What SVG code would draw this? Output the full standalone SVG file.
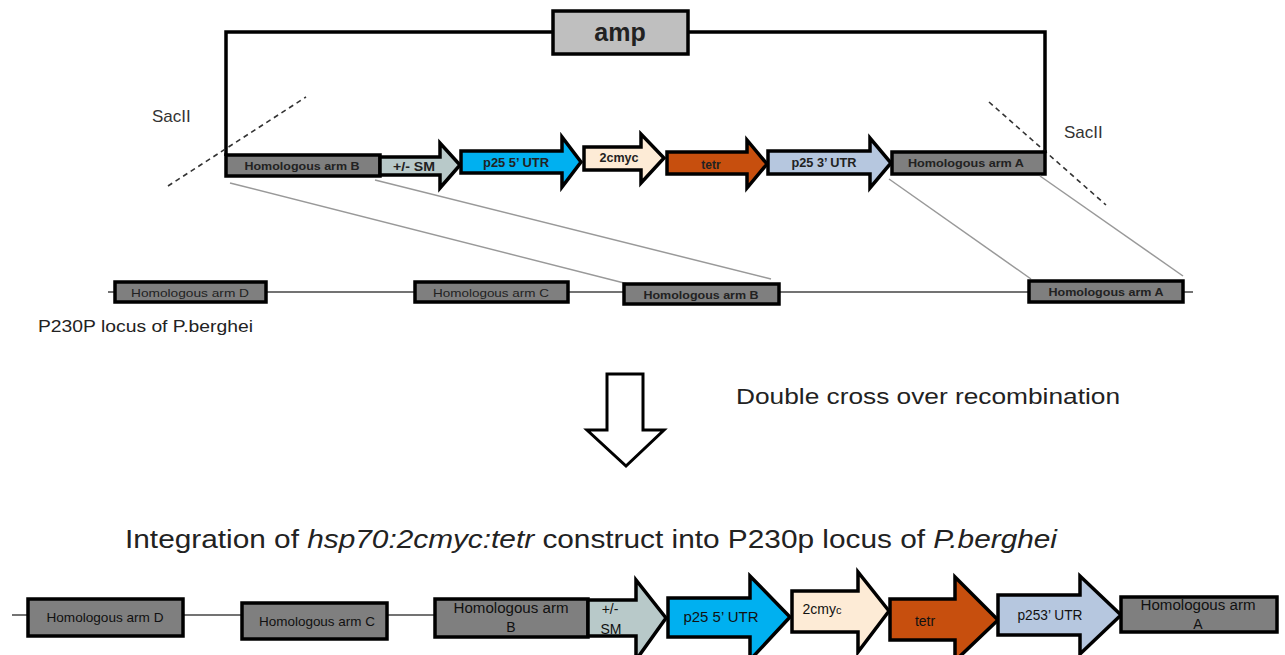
<svg xmlns="http://www.w3.org/2000/svg" width="1285" height="655" viewBox="0 0 1285 655">
  <style>
    .blk { fill: none; stroke: #000; stroke-width: 3.5; }
    .seg { stroke: #000; stroke-width: 3.5; stroke-linejoin: miter; }
    .arm { fill: #7f7f7f; }
    .sm { fill: #b8c9c9; }
    .utr5 { fill: #00b0f0; }
    .myc { fill: #fdebd6; }
    .tet { fill: #c74f0e; }
    .utr3 { fill: #b6c7df; }
    .link { stroke: #999; stroke-width: 1.5; fill: none; }
    .cut { stroke: #333; stroke-width: 1.6; stroke-dasharray: 5 4; fill: none; }
    .chrom { stroke: #444; stroke-width: 1.5; fill: none; }
    text { font-family: "Liberation Sans", Arial, sans-serif; fill: #222; }
    .lb { font-size: 11px; font-weight: bold; text-anchor: middle; }
    .lb12 { font-size: 12px; }
    .lb13 { font-size: 13px; }
    .ll { font-size: 11.5px; text-anchor: middle; }
    .llb { font-weight: bold; }
    .bl { font-size: 14px; text-anchor: middle; fill: #111; }
    .bls { font-size: 13px; }
    .site { font-size: 17px; fill: #333; }
  </style>

  <!-- plasmid backbone with amp cassette -->
  <g id="backbone">
    <polyline class="blk" points="553,32 226,32 226,156"/>
    <polyline class="blk" points="688,32 1045,32 1045,153"/>
  </g>
  <g id="amp">
    <rect x="553" y="11" width="135" height="43" fill="#bfbfbf" stroke="#000" stroke-width="3.5"/>
    <text x="620" y="41" font-size="25" font-weight="bold" text-anchor="middle">amp</text>
  </g>

  <!-- SacII cut sites -->
  <g id="sacII-left">
    <line class="cut" x1="168" y1="186" x2="306" y2="97"/>
    <text class="site" x="152" y="122">SacII</text>
  </g>
  <g id="sacII-right">
    <line class="cut" x1="989" y1="102" x2="1106" y2="205"/>
    <text class="site" x="1064" y="138">SacII</text>
  </g>

  <!-- targeting construct -->
  <g id="construct-armB">
    <rect class="seg arm" x="226" y="155" width="154" height="21"/>
    <text class="lb" x="302" y="169.5" textLength="115" lengthAdjust="spacingAndGlyphs">Homologous arm B</text>
  </g>
  <g id="construct-sm">
    <polygon class="seg sm" points="380,157 440,157 440,143 460,165 440,188 440,175 380,175"/>
    <text class="lb lb12" x="414" y="170.5" textLength="42" lengthAdjust="spacingAndGlyphs">+/- SM</text>
  </g>
  <g id="construct-p25-5utr">
    <polygon class="seg utr5" points="461,151 562,151 562,137 581,162 562,187 562,173 461,173"/>
    <text class="lb lb12" x="516" y="166.5" textLength="66" lengthAdjust="spacingAndGlyphs">p25 5’ UTR</text>
  </g>
  <g id="construct-2cmyc">
    <polygon class="seg myc" points="584,147 641,147 641,134 664,158 641,183 641,170 584,170"/>
    <text class="lb lb12" x="619" y="162" textLength="39" lengthAdjust="spacingAndGlyphs">2cmyc</text>
  </g>
  <g id="construct-tetr">
    <polygon class="seg tet" points="667,152 747,152 747,140 767,164 747,188 747,174 667,174"/>
    <text class="lb lb12" x="711" y="168.5">tetr</text>
  </g>
  <g id="construct-p25-3utr">
    <polygon class="seg utr3" points="768,151 870,151 870,138 891,163 870,188 870,174 768,174"/>
    <text class="lb lb12" x="824" y="166.5" textLength="65" lengthAdjust="spacingAndGlyphs">p25 3’ UTR</text>
  </g>
  <g id="construct-armA">
    <rect class="seg arm" x="892" y="152" width="153" height="22"/>
    <text class="lb" x="966" y="167" textLength="116" lengthAdjust="spacingAndGlyphs">Homologous arm A</text>
  </g>

  <!-- homology connectors -->
  <g id="connectors">
    <line class="link" x1="230" y1="183" x2="628" y2="284"/>
    <line class="link" x1="375" y1="180" x2="771" y2="279"/>
    <line class="link" x1="889" y1="179" x2="1031" y2="279"/>
    <line class="link" x1="1040" y1="176" x2="1183" y2="276"/>
  </g>

  <!-- wild-type P230p locus -->
  <g id="locus-line">
    <line class="chrom" x1="108" y1="292" x2="1193" y2="292"/>
  </g>
  <g id="locus-armD">
    <rect class="seg arm" x="115" y="282" width="151" height="20"/>
    <text class="ll" x="190" y="296.5" textLength="118" lengthAdjust="spacingAndGlyphs">Homologous arm D</text>
  </g>
  <g id="locus-armC">
    <rect class="seg arm" x="415" y="282" width="153" height="20"/>
    <text class="ll" x="491" y="296.5" textLength="116" lengthAdjust="spacingAndGlyphs">Homologous arm C</text>
  </g>
  <g id="locus-armB">
    <rect class="seg arm" x="624" y="284" width="155" height="20"/>
    <text class="ll llb" x="701" y="298.5" textLength="115" lengthAdjust="spacingAndGlyphs">Homologous arm B</text>
  </g>
  <g id="locus-armA">
    <rect class="seg arm" x="1029" y="281" width="154" height="21"/>
    <text class="ll llb" x="1106" y="296" textLength="115" lengthAdjust="spacingAndGlyphs">Homologous arm A</text>
  </g>
  <g id="locus-label">
    <text x="38" y="332" font-size="17" textLength="215" lengthAdjust="spacingAndGlyphs">P230P  locus of P.berghei</text>
  </g>

  <!-- recombination step -->
  <g id="down-arrow">
    <polygon points="607,374 643,374 643,430 664,430 626,466 587,430 607,430" fill="#fff" stroke="#000" stroke-width="3"/>
  </g>
  <g id="recombination-label">
    <text x="736" y="404" font-size="22" fill="#333" textLength="384" lengthAdjust="spacingAndGlyphs">Double cross over recombination</text>
  </g>
  <g id="result-title">
    <text x="125" y="548" font-size="26" fill="#000" textLength="932" lengthAdjust="spacingAndGlyphs">Integration of <tspan font-style="italic">hsp70:2cmyc:tetr</tspan>  construct into P230p locus of <tspan font-style="italic">P.berghei</tspan></text>
  </g>

  <!-- integrated locus -->
  <g id="result-line">
    <line class="chrom" x1="12" y1="615" x2="436" y2="615"/>
  </g>
  <g id="result-armD">
    <rect class="seg arm" x="28" y="599" width="155" height="37"/>
    <text class="bl bls" x="105" y="622" textLength="117" lengthAdjust="spacingAndGlyphs">Homologous arm D</text>
  </g>
  <g id="result-armC">
    <rect class="seg arm" x="242" y="603" width="145" height="36"/>
    <text class="bl bls" x="317" y="625.5" textLength="116" lengthAdjust="spacingAndGlyphs">Homologous arm C</text>
  </g>
  <g id="result-armB">
    <rect class="seg arm" x="435" y="599" width="153" height="38"/>
    <text class="bl" x="511" y="613" textLength="115" lengthAdjust="spacingAndGlyphs">Homologous arm</text>
    <text class="bl" x="511" y="632">B</text>
  </g>
  <g id="result-sm">
    <polygon class="seg sm" points="588,600 636,600 636,580 666,618 636,660 636,636 588,636"/>
    <text class="bl" x="610" y="614">+/-</text>
    <text class="bl" x="611" y="634">SM</text>
  </g>
  <g id="result-p25-5utr">
    <polygon class="seg utr5" points="668,598 750,598 750,576 790,617 750,660 750,637 668,637"/>
    <text class="bl" x="721" y="622" textLength="75" lengthAdjust="spacingAndGlyphs">p25 5’ UTR</text>
  </g>
  <g id="result-2cmyc">
    <polygon class="seg myc" points="792,591 858,591 858,572 889,611 858,652 858,632 792,632"/>
    <text class="bl" x="822" y="614">2cmy<tspan font-size="11">c</tspan></text>
  </g>
  <g id="result-tetr">
    <polygon class="seg tet" points="890,599 955,599 955,577 998,620 955,661 955,640 890,640"/>
    <text class="bl" x="925" y="626">tetr</text>
  </g>
  <g id="result-p25-3utr">
    <polygon class="seg utr3" points="998,595 1080,595 1080,576 1121,615 1080,654 1080,635 998,635"/>
    <text class="bl" x="1050" y="620" textLength="65" lengthAdjust="spacingAndGlyphs">p253’ UTR</text>
  </g>
  <g id="result-armA">
    <rect class="seg arm" x="1121" y="597" width="156" height="35"/>
    <text class="bl" x="1198" y="610" textLength="115" lengthAdjust="spacingAndGlyphs">Homologous arm</text>
    <text class="bl" x="1198" y="629">A</text>
  </g>
</svg>
